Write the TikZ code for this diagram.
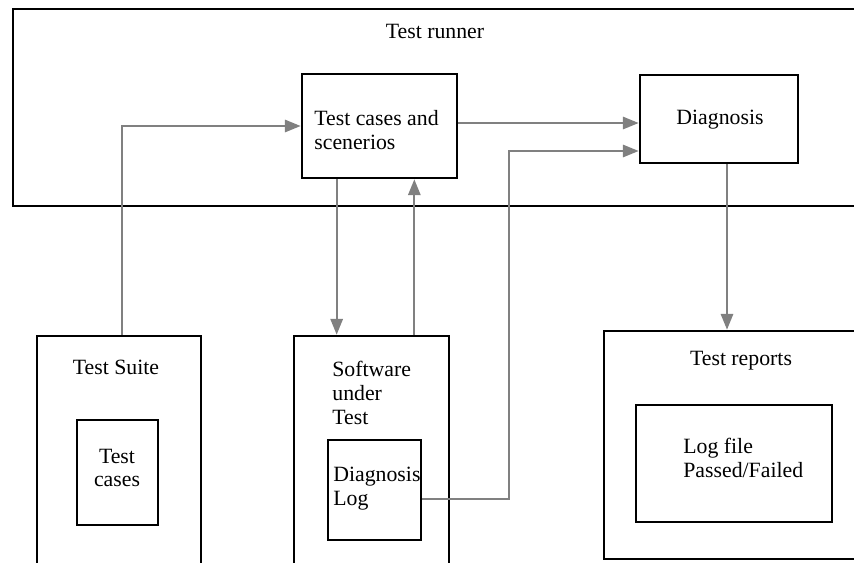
\documentclass[tikz,border=0pt]{standalone}
\usepackage{fontspec}
\setmainfont{Liberation Serif}
\usetikzlibrary{arrows.meta,fit}

\begin{document}
\begin{tikzpicture}[x=0.02cm, y=-0.02cm,
    font=\fontsize{12.4}{13.6}\selectfont,
    box/.style={draw=black, line width=1.5pt, inner sep=0pt},
    lbl/.style={inner sep=0pt, align=left},
    flow/.style={draw=black!50, line width=1.2pt, -{Triangle[length=9pt,width=7pt]}}]
    \useasboundingbox (0,0) rectangle (854,562);
    \clip (0,0) rectangle (854,562);

    % Test runner and its two inner boxes
    \node[box, fit={(13,9) (880,206)}] (runner) {};
    \node at (435,31) (runnerlbl) {Test runner};
    \node[box, fit={(302,74) (457,178)}] (tcs) {};
    \node[lbl, anchor=west] at (314,130) (tcslbl) {Test cases and\\scenerios};
    \node[box, fit={(640,75) (798,163)}] (diag) {};
    \node at (720,120) (diaglbl) {Diagnosis};

    % Boxes along the bottom
    \node[box, fit={(37,336) (201,600)}] (suite) {};
    \node at (116,367) (suitelbl) {Test Suite};
    \node[box, fit={(77,420) (158,525)}] (cases) {};
    \node[align=center, inner sep=0pt] at (117,468) (caseslbl) {Test\\cases};

    \node[box, fit={(294,336) (449,600)}] (sut) {};
    \node[lbl, anchor=west] at (332,393) (sutlbl) {Software\\under\\Test};
    \node[box, fit={(328,440) (421,540)}] (log) {};
    \node[lbl, anchor=west] at (333,489) (loglbl) {Diagnosis\\Log};

    \node[box, fit={(604,331) (880,559)}] (rep) {};
    \node at (741,361) (replbl) {Test reports};
    \node[box, fit={(636,405) (832,522)}] (logfile) {};
    \node[lbl, anchor=west] at (683,458) (logfilelbl) {Log file\\Passed/Failed};

    % Connectors
    \draw[flow] ([xshift=0.06cm]suite.north) |- (tcs.west);
    \draw[flow] ([yshift=0.06cm]tcs.east) -- ([yshift=0.06cm]tcs.east -| diag.west);
    \draw[flow] ([xshift=0.72cm]tcs.south west) -- ([xshift=0.72cm]tcs.south west |- sut.north);
    \draw[flow] ([xshift=-0.88cm]tcs.south east |- sut.north) -- ([xshift=-0.88cm]tcs.south east);
    \draw[flow] ([yshift=-0.18cm]log.east) -- ++(87,0) |- ([yshift=-0.64cm]diag.west);
    \draw[flow] ([xshift=0.16cm]diag.south) -- ([xshift=0.16cm]diag.south |- rep.north);
\end{tikzpicture}
\end{document}
